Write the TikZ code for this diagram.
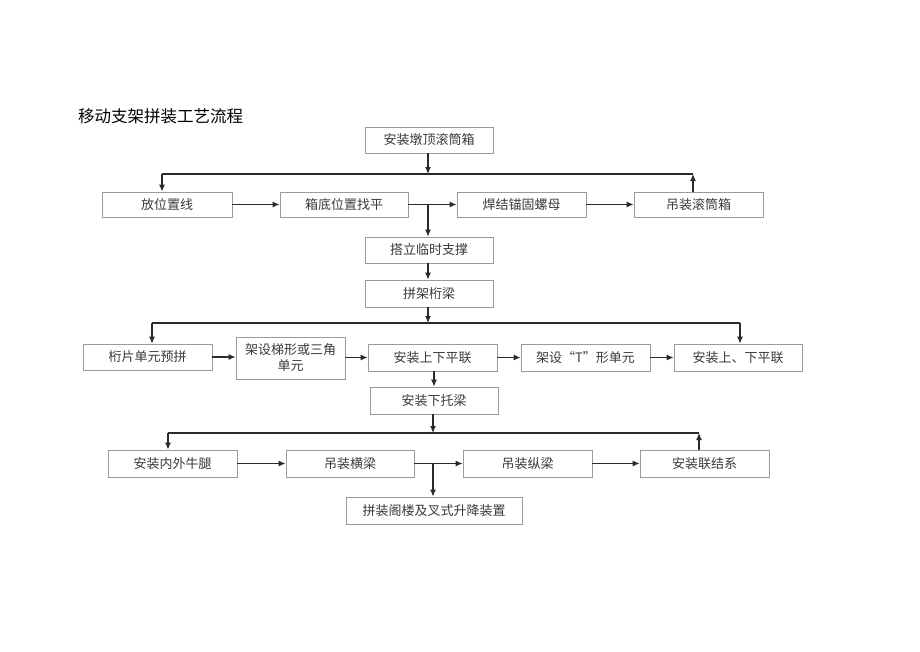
\documentclass[tikz,border=0pt]{standalone}
\usepackage{fontspec}
\newfontfamily\cjk{Noto Sans CJK SC}
\usetikzlibrary{arrows.meta}
\definecolor{boxline}{HTML}{9A9A9A}
\definecolor{txt}{HTML}{3A3A3A}
\definecolor{conn}{HTML}{2A2A2A}
\tikzset{
  stepbox/.style={draw=boxline, line width=0.8pt, minimum height=26pt, inner sep=0pt,
    text=txt, font=\cjk\fontsize{13}{16}\selectfont, align=center},
  link/.style={draw=conn, line width=1.2pt},
  arr/.style={link, -{Latex[length=7pt,width=6pt]}}
}
\begin{document}
\begin{tikzpicture}[x=1pt,y=-1pt]
\useasboundingbox[fill=white] (0,0) rectangle (920,651);
\node[anchor=west, font=\cjk\fontsize{16.5}{18}\selectfont, text=black, inner sep=0pt] (title) at (78,116) {移动支架拼装工艺流程};

\node[stepbox, minimum width=128pt] (n1) at (429,140) {安装墩顶滚筒箱};
\node[stepbox, minimum width=130pt, minimum height=25pt] (a) at (167,204.5) {放位置线};
\node[stepbox, minimum width=128pt, minimum height=25pt] (b) at (344,204.5) {箱底位置找平};
\node[stepbox, minimum width=129pt, minimum height=25pt] (c) at (521.5,204.5) {焊结锚固螺母};
\node[stepbox, minimum width=129pt, minimum height=25pt] (d) at (698.5,204.5) {吊装滚筒箱};
\node[stepbox, minimum width=128pt] (e) at (429,250) {搭立临时支撑};
\node[stepbox, minimum width=128pt, minimum height=27pt] (f) at (429,293.5) {拼架桁梁};
\node[stepbox, minimum width=129pt] (g) at (147.5,357) {桁片单元预拼};
\node[stepbox, minimum width=109pt, minimum height=42pt] (h) at (290.5,358) {架设梯形或三角\\单元};
\node[stepbox, minimum width=129pt, minimum height=27pt] (i) at (432.5,357.5) {安装上下平联};
\node[stepbox, minimum width=129pt, minimum height=27pt] (j) at (585.5,357.5) {架设“T”形单元};
\node[stepbox, minimum width=128pt, minimum height=27pt] (k) at (738,357.5) {安装上、下平联};
\node[stepbox, minimum width=128pt, minimum height=27pt] (l) at (434,400.5) {安装下托梁};
\node[stepbox, minimum width=129pt, minimum height=27pt] (m) at (172.5,463.5) {安装内外牛腿};
\node[stepbox, minimum width=128pt, minimum height=27pt] (n) at (350,463.5) {吊装横梁};
\node[stepbox, minimum width=129pt, minimum height=27pt] (o) at (527.5,463.5) {吊装纵梁};
\node[stepbox, minimum width=129pt, minimum height=27pt] (p) at (704.5,463.5) {安装联结系};
\node[stepbox, minimum width=176pt, minimum height=27pt] (q) at (434,510.5) {拼装阁楼及叉式升降装置};

% level 1 distribution
\coordinate (J1) at (428,174);
\coordinate (L1) at (162,174);
\coordinate (R1) at (693,174);
\draw[arr] (n1.south -| J1) -- (J1);
\draw[link] (L1) -- (R1);
\draw[arr] (L1) -- (L1 |- a.north);
\draw[arr] (R1 |- d.north) -- (R1);
\draw[arr] (a) -- (b);
\draw[arr] (b) -- (c);
\draw[arr] (c) -- (d);
\coordinate (B1) at (428,204.5);
\draw[arr] (B1) -- (B1 |- e.north);
\draw[arr] (e.south -| B1) -- (f.north -| B1);

% level 2 distribution
\coordinate (J2) at (428,323);
\coordinate (L2) at (152,323);
\coordinate (R2) at (740,323);
\draw[arr] (f.south -| J2) -- (J2);
\draw[link] (L2) -- (R2);
\draw[arr] (L2) -- (L2 |- g.north);
\draw[arr] (R2) -- (R2 |- k.north);
\draw[arr] (g.east) -- (h.west |- g.east);
\draw[arr] (h.east |- i.west) -- (i.west);
\draw[arr] (i) -- (j);
\draw[arr] (j) -- (k);
\coordinate (C2) at (434,0);
\draw[arr] (i.south -| C2) -- (l.north -| C2);

% level 3 distribution
\coordinate (J3) at (433,433);
\coordinate (L3) at (168,433);
\coordinate (R3) at (699,433);
\draw[arr] (l.south -| J3) -- (J3);
\draw[link] (L3) -- (R3);
\draw[arr] (L3) -- (L3 |- m.north);
\draw[arr] (R3 |- p.north) -- (R3);
\draw[arr] (m) -- (n);
\draw[arr] (n) -- (o);
\draw[arr] (o) -- (p);
\coordinate (B3) at (433,463.5);
\draw[arr] (B3) -- (B3 |- q.north);
\end{tikzpicture}
\end{document}
